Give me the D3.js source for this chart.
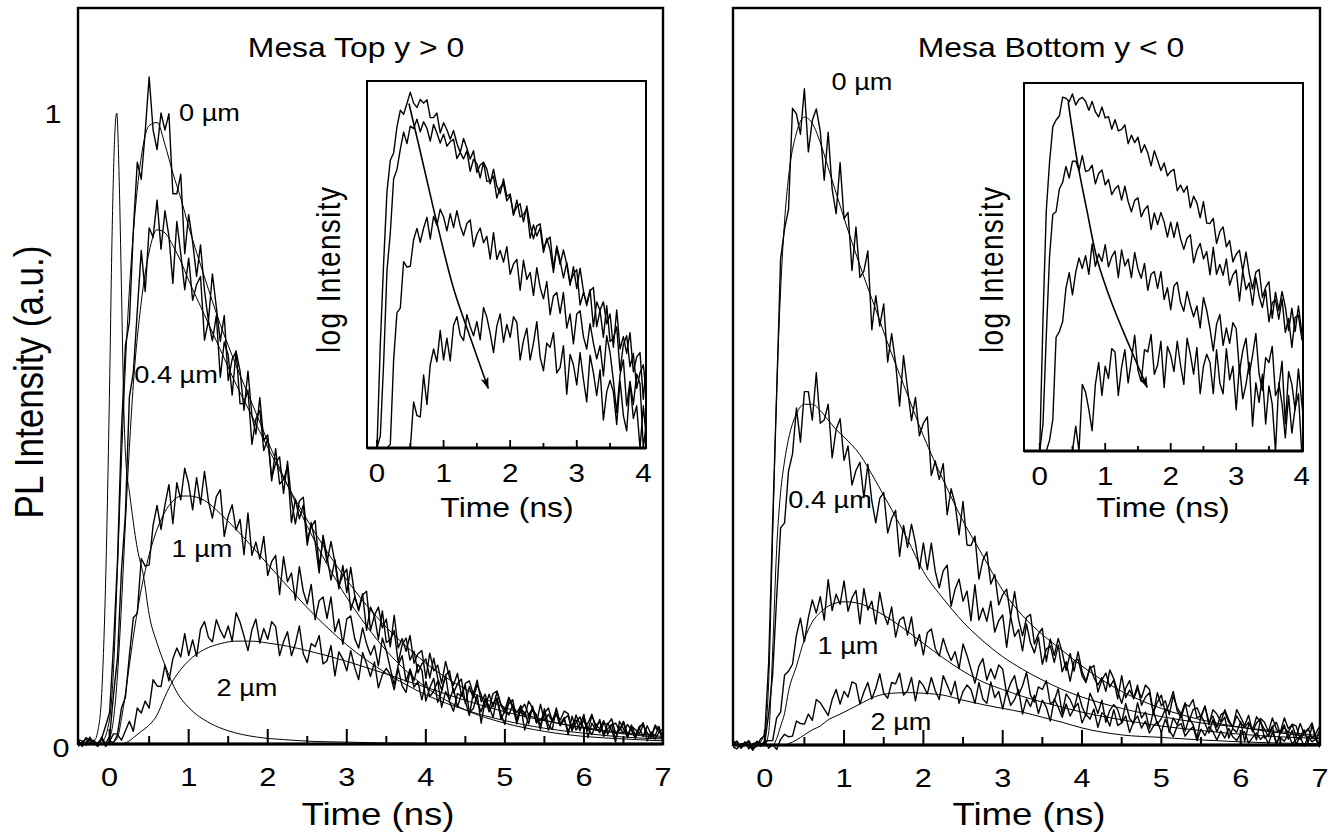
<!DOCTYPE html>
<html><head><meta charset="utf-8">
<script src="https://cdn.jsdelivr.net/npm/d3@7"></script>
<style>
body{margin:0;background:#fff}
svg{display:block}
text{font-family:"Liberation Sans",Arial,Helvetica,sans-serif;fill:#000}
.data{fill:none;stroke:#000;stroke-width:1.4;stroke-linejoin:round}
.fit{fill:none;stroke:#000;stroke-width:1}
</style>
</head><body>
<svg id="c" width="1340" height="838"></svg>
<script>
// ---------- sampling grid of the measured traces (ns) ----------
const TIME_START = -0.4, TIME_STEP = 0.05;

// ---------- Mesa Top (y > 0): measured PL transients ----------
const topData0um = [
.005,-.002,.01,.006,.001,-.004,.009,.029,.05,.158,
.292,.498,.632,.668,.814,.922,.895,.97,1.057,.973,
.942,1.0,.973,.999,.872,.872,.903,.777,.839,.796,
.741,.791,.719,.67,.745,.692,.638,.679,.576,.61,
.622,.591,.529,.591,.52,.491,.549,.481,.49,.417,
.468,.412,.419,.439,.351,.388,.357,.379,.315,.351,
.32,.271,.331,.297,.26,.292,.251,.267,.277,.212,
.233,.214,.238,.18,.217,.203,.166,.211,.161,.165,
.18,.129,.157,.168,.133,.147,.113,.127,.135,.105,
.136,.104,.086,.109,.116,.081,.095,.103,.064,.091,
.073,.094,.078,.058,.079,.059,.082,.061,.049,.064,
.07,.038,.054,.063,.046,.056,.033,.063,.037,.047,
.036,.055,.03,.04,.045,.021,.046,.031,.037,.021,
.045,.03,.024,.037,.015,.03,.033,.022,.036,.016,
.024,.009,.028,.031,.017,.013,.027,.019,.012];
const topData04um = [
.008,-.004,.003,.007,.005,-.002,.009,.001,.012,.079,
.137,.275,.365,.55,.589,.686,.782,.717,.818,.803,
.862,.784,.845,.805,.73,.828,.777,.72,.77,.703,
.728,.741,.64,.671,.639,.679,.581,.637,.616,.553,
.623,.539,.54,.561,.475,.515,.529,.465,.484,.422,
.445,.455,.397,.448,.387,.349,.385,.391,.325,.344,
.354,.28,.326,.288,.321,.288,.246,.283,.24,.28,
.236,.211,.236,.242,.18,.204,.217,.184,.198,.154,
.204,.152,.167,.147,.172,.128,.143,.148,.104,.144,
.116,.125,.096,.131,.105,.093,.112,.077,.096,.1,
.079,.101,.067,.079,.055,.08,.084,.063,.054,.074,
.06,.05,.06,.043,.068,.057,.044,.03,.049,.057,
.036,.047,.038,.052,.048,.022,.034,.043,.023,.033,
.047,.025,.018,.033,.031,.04,.017,.022,.034,.01,
.028,.023,.016,.03,.017,.01,.03,.023,.013];
const topData1um = [
.007,.005,-.002,.011,0,.002,.008,-.004,.005,.016,
.016,.057,.074,.14,.2,.207,.294,.282,.284,.347,
.378,.34,.379,.411,.349,.414,.387,.437,.412,.371,
.422,.38,.432,.385,.358,.392,.403,.329,.361,.379,
.339,.356,.3,.366,.299,.32,.293,.329,.267,.289,
.299,.237,.297,.257,.271,.228,.281,.242,.222,.253,
.197,.227,.233,.199,.233,.178,.198,.158,.198,.203,
.167,.152,.184,.159,.141,.156,.124,.168,.148,.12,
.094,.125,.14,.099,.119,.1,.126,.117,.068,.089,
.104,.066,.083,.109,.067,.052,.08,.076,.093,.05,
.056,.078,.033,.069,.06,.042,.073,.047,.031,.073,
.057,.037,.061,.022,.043,.054,.046,.023,.056,.03,
.023,.057,.032,.042,.015,.044,.022,.031,.047,.01,
.033,.022,.039,.012,.033,.022,.003,.036,.024,.011,
.03,.014,.025,.034,.005,.019,.013,.028,.002];
const topData2um = [
-.004,.003,.008,.002,.006,-.003,.011,-.001,.005,.002,
.015,.006,.021,.036,.02,.057,.049,.068,.057,.102,
.092,.091,.125,.1,.135,.152,.138,.175,.14,.165,
.139,.182,.194,.169,.162,.197,.18,.168,.187,.163,
.208,.193,.171,.148,.181,.198,.16,.183,.166,.194,
.186,.14,.162,.178,.14,.159,.187,.143,.129,.159,
.154,.172,.127,.132,.156,.108,.146,.135,.116,.148,
.121,.102,.145,.127,.107,.13,.089,.11,.12,.11,
.086,.12,.092,.082,.118,.09,.099,.07,.099,.075,
.084,.1,.058,.083,.07,.088,.058,.08,.068,.045,
.081,.066,.051,.072,.051,.064,.072,.039,.053,.046,
.062,.032,.055,.05,.032,.06,.034,.038,.048,.022,
.039,.048,.029,.039,.021,.031,.038,.021,.042,.025,
.015,.03,.035,.015,.024,.031,.008,.027,.017,.031,
.022,.01,.025,.012,.029,.015,.008,.019,.024];

// ---------- Mesa Bottom (y < 0): measured PL transients ----------
const botData0um = [
-.003,-.006,.002,.002,.007,-.005,-.002,.01,.015,.131,
.354,.554,.77,.818,.849,1.009,1.0,.968,1.04,.94,
.99,1.008,.973,.895,.971,.881,.842,.923,.834,.844,
.752,.821,.741,.751,.783,.658,.712,.664,.699,.607,
.652,.605,.537,.617,.565,.514,.551,.49,.51,.52,
.427,.45,.421,.446,.365,.406,.382,.333,.386,.317,
.316,.331,.263,.293,.306,.255,.27,.222,.238,.247,
.204,.243,.199,.173,.202,.207,.16,.176,.185,.132,
.168,.142,.169,.147,.118,.145,.117,.148,.117,.101,
.121,.126,.084,.103,.114,.092,.103,.073,.11,.075,
.087,.074,.095,.063,.076,.083,.049,.083,.062,.07,
.048,.078,.059,.049,.067,.038,.056,.059,.044,.061,
.036,.046,.028,.048,.052,.036,.029,.046,.035,.028,
.036,.023,.045,.036,.025,.013,.028,.036,.018,.028,
.02,.033,.03,.009,.019,.026,.01,.019,.031];
const botData04um = [
-.002,.006,-.005,.004,0,-.008,.006,.002,.003,.05,
.112,.233,.344,.352,.434,.461,.534,.48,.56,.56,
.515,.59,.51,.515,.54,.455,.5,.517,.451,.474,
.412,.435,.448,.392,.445,.387,.352,.391,.4,.336,
.359,.372,.299,.348,.313,.35,.32,.279,.32,.278,
.32,.275,.249,.276,.285,.22,.247,.263,.228,.244,
.197,.254,.198,.217,.196,.228,.179,.197,.206,.155,
.204,.172,.183,.149,.192,.162,.146,.171,.128,.152,
.157,.131,.158,.116,.132,.101,.133,.136,.11,.099,
.125,.107,.095,.107,.085,.119,.105,.085,.066,.09,
.102,.073,.089,.075,.095,.088,.052,.068,.079,.052,
.065,.085,.054,.043,.065,.061,.072,.043,.046,.062,
.032,.056,.049,.037,.056,.04,.028,.056,.044,.031,
.047,.021,.035,.042,.036,.021,.043,.025,.02,.043,
.026,.032,.013,.034,.018,.024,.035,.009,.025];
const botData1um = [
.002,.006,-.005,.001,.005,-.008,.003,-.002,.006,.007,
.007,.043,.052,.111,.117,.128,.174,.201,.164,.202,
.23,.209,.235,.198,.262,.213,.239,.223,.26,.212,
.233,.245,.192,.248,.214,.228,.192,.242,.208,.191,
.219,.171,.198,.203,.174,.203,.157,.175,.143,.178,
.184,.153,.141,.169,.149,.134,.148,.121,.16,.142,
.12,.098,.125,.137,.103,.121,.105,.127,.12,.081,
.098,.11,.079,.094,.115,.079,.068,.092,.088,.102,
.065,.07,.089,.05,.081,.072,.057,.083,.061,.046,
.082,.068,.05,.071,.036,.055,.064,.056,.035,.066,
.042,.034,.067,.043,.052,.026,.054,.033,.042,.057,
.02,.043,.032,.049,.022,.043,.032,.011,.047,.034,
.019,.04,.021,.035,.044,.011,.026,.02,.037,.006,
.032,.027,.008,.04,.011,.016,.03,-.001,.021,.032,
.009,.023,.001,.014,.024,.003,.031,.008,-.004];
const botData2um = [
.007,0,-.003,.005,-.006,.002,.004,-.002,.006,-.005,
.001,-.007,.009,.017,.013,.014,.038,.034,.033,.049,
.039,.072,.067,.057,.047,.072,.088,.065,.085,.076,
.1,.097,.065,.084,.099,.073,.09,.113,.082,.074,
.099,.097,.114,.079,.086,.107,.07,.102,.094,.081,
.107,.086,.072,.11,.095,.079,.101,.066,.085,.095,
.088,.066,.099,.073,.066,.1,.075,.085,.057,.086,
.063,.072,.088,.049,.073,.061,.079,.05,.071,.06,
.038,.073,.06,.044,.065,.046,.058,.066,.035,.049,
.041,.057,.028,.051,.046,.03,.056,.031,.035,.046,
.02,.037,.046,.027,.038,.019,.03,.037,.02,.041,
.023,.013,.03,.034,.014,.023,.029,.007,.025,.015,
.029,.021,.008,.022,.011,.026,.013,.007,.018,.021,
.003,.012,.019,.009,.015,.002,.02,.005,.012,.006,
.017,.002,.009,.013,-.002,.013,.005,.01,.001];

// ---------- model fits (time grid in ns) ----------
const fitTimes = [-0.4,-0.2,-0.1,0,0.05,0.1,0.15,0.2,0.25,0.3,0.4,0.5,0.6,0.7,0.8,0.9,1.0,1.2,1.4,1.6,1.8,2.0,2.25,2.5,2.75,3.0,3.25,3.5,3.75,4.0,4.5,5.0,5.5,6.0,6.5,7.0];
const topFit0um  = [0,0,.003,.04,.12,.28,.45,.6,.72,.81,.93,.98,.985,.95,.905,.865,.82,.74,.665,.6,.54,.48,.41,.345,.285,.232,.187,.148,.116,.09,.054,.033,.02,.012,.008,.005];
const topFit04um = [0,0,0,.01,.04,.11,.22,.35,.47,.57,.7,.78,.815,.81,.79,.765,.735,.68,.625,.57,.52,.47,.41,.355,.305,.26,.22,.185,.155,.128,.087,.058,.038,.025,.016,.01];
const topFit1um  = [0,0,0,0,.003,.01,.04,.08,.125,.17,.245,.3,.34,.368,.385,.393,.393,.386,.365,.34,.313,.285,.25,.216,.185,.157,.133,.112,.094,.078,.054,.037,.025,.017,.011,.008];
const topFit2um  = [0,0,0,0,0,0,0,.002,.005,.01,.02,.03,.046,.075,.1,.118,.132,.15,.159,.163,.163,.16,.155,.148,.14,.131,.121,.111,.1,.09,.069,.051,.037,.026,.018,.012];
const botFit0um  = [0,0,0,.02,.1,.33,.56,.72,.83,.9,.97,.995,.985,.955,.915,.875,.835,.76,.69,.62,.555,.49,.42,.355,.3,.245,.205,.175,.15,.125,.085,.058,.04,.028,.019,.012];
const botFit04um = [0,0,0,0,.02,.15,.31,.4,.45,.485,.525,.54,.54,.53,.515,.5,.488,.46,.418,.373,.326,.275,.232,.195,.165,.14,.12,.103,.088,.076,.058,.045,.035,.028,.021,.015];
const botFit1um  = [0,0,0,0,0,0,.01,.03,.05,.085,.125,.167,.195,.21,.22,.225,.227,.224,.213,.198,.18,.161,.138,.117,.1,.088,.077,.068,.06,.052,.04,.03,.023,.017,.013,.01];
const botFit2um  = [0,0,0,0,0,0,0,0,0,.002,.008,.016,.024,.03,.04,.046,.052,.065,.077,.082,.083,.082,.079,.071,.064,.058,.052,.044,.036,.027,.016,.012,.008,.005,.003,.002];

// ---------- excitation pulse / system response (Mesa Top panel) ----------
const pulseTimes  = [-0.4,-0.3,-0.25,-0.2,-0.15,-0.1,-0.05,0,0.03,0.06,0.09,0.12,0.15,0.18,0.21,0.25,0.28,0.35,0.43,0.5,0.6,0.7,0.85,1.0,1.27,1.5,1.86,2.2,2.6,3.0,3.5,4.0,5.0,7.0];
const pulseValues = [0,0,.001,.004,.02,.08,.26,.57,.8,.95,1.0,.9,.72,.53,.44,.4,.37,.31,.265,.205,.16,.125,.082,.058,.033,.021,.011,.007,.004,.003,.0015,.001,0,0];

// ---------- arrows through the peaks in the log insets ----------
const topArrowTimes  = [0.48,0.62,0.77,0.9,1.15,1.4,1.67];
const topArrowValues = [.97,.72,.52,.394,.24,.166,.113];
const botArrowTimes  = [0.435,0.49,0.57,0.72,0.88,1.1,1.38,1.64];
const botArrowValues = [.965,.77,.566,.357,.226,.152,.101,.07];

// ---------- axes / labels ----------
const mainTickValues   = [0,0.5,1,1.5,2,2.5,3,3.5,4,4.5,5,5.5,6,6.5];
const mainTickLabels   = ["0","1","2","3","4","5","6","7"];
const insetTickValues  = [0,0.5,1,1.5,2,2.5,3,3.5];
const insetTickLabels  = ["0","1","2","3","4"];
const yTickLabels      = ["0","1"];
const panelTitles      = ["Mesa Top y > 0","Mesa Bottom y < 0"];
const distanceLabels   = ["0 µm","0.4 µm","1 µm","2 µm"];
const xAxisTitle = "Time (ns)", yAxisTitle = "PL Intensity (a.u.)", insetYTitle = "log Intensity";

// ---------- drawing ----------
const SX = 1.18;  // horizontal stretch of the original lettering
const svg = d3.select('#c');
svg.append('rect').attr('width',1340).attr('height',838).attr('fill','#fff');
const defs = svg.append('defs');
defs.append('marker').attr('id','ah').attr('viewBox','0 0 12 10').attr('refX',11).attr('refY',5)
  .attr('markerWidth',12).attr('markerHeight',10).attr('markerUnits','userSpaceOnUse').attr('orient','auto')
  .append('path').attr('d','M0,1 L12,5 L0,9 L3,5 Z').attr('fill','#000');

function label(g, x, y, s, size, opt) {
  opt = opt || {};
  const t = g.append('text').attr('text-anchor','middle').attr('font-size',size)
    .attr('transform',`translate(${x},${y}) scale(${SX},1)` + (opt.rot ? ' rotate(-90)' : ''))
    .text(s);
  if (opt.len) t.attr('textLength',opt.len).attr('lengthAdjust','spacing');
  return t;
}

const panels = [
  { id:'top', data:[topData0um,topData04um,topData1um,topData2um], fits:[topFit0um,topFit04um,topFit1um,topFit2um], pulse:true,
    x0:78, x1:663, yTop:8, yBase:744, yOne:113, title:panelTitles[0], titleX:356, xTitleX:378,
    labelPos:[[209.5,121],[176,383],[202,557],[247,696]], yLabels:true,
    inset:{x0:367,x1:646,y0:81,y1:448,tmin:-0.15,tmax:4.04,vmin:0.072,vmax:1.15,ylabX:340,xTitleX:507,aT:topArrowTimes,aV:topArrowValues} },
  { id:'bot', data:[botData0um,botData04um,botData1um,botData2um], fits:[botFit0um,botFit04um,botFit1um,botFit2um], pulse:false,
    x0:733, x1:1320, yTop:8, yBase:745, yOne:114, title:panelTitles[1], titleX:1051, xTitleX:1029,
    labelPos:[[862,90],[830,508],[848,654],[901,730]], yLabels:false,
    inset:{x0:1024,x1:1303,y0:83,y1:451,tmin:-0.24,tmax:4.02,vmin:0.039,vmax:1.15,ylabX:1003,xTitleX:1163,aT:botArrowTimes,aV:botArrowValues} }
];

panels.forEach(p => {
  const g = svg.append('g');
  const x = d3.scaleLinear().domain([-0.4,7]).range([p.x0,p.x1]);
  const y = d3.scaleLinear().domain([0,1]).range([p.yBase,p.yOne]);
  const cid = 'clip-' + p.id;
  defs.append('clipPath').attr('id',cid).append('rect')
    .attr('x',p.x0).attr('y',p.yTop).attr('width',p.x1-p.x0).attr('height',p.yBase-p.yTop+8);
  const plot = g.append('g').attr('clip-path',`url(#${cid})`);
  const dataLine = d3.line().x((d,i)=>x(TIME_START+TIME_STEP*i)).y(d=>y(d));
  const fitLine = d3.line().curve(d3.curveMonotoneX).x((d,i)=>x(fitTimes[i])).y(d=>y(d));
  p.data.forEach(arr => plot.append('path').attr('class','data').attr('d',dataLine(arr)));
  p.fits.forEach(arr => plot.append('path').attr('class','fit').attr('d',fitLine(arr)));
  if (p.pulse) {
    const pl = d3.line().curve(d3.curveMonotoneX).x((d,i)=>x(pulseTimes[i])).y(d=>y(d));
    plot.append('path').attr('class','fit').attr('d',pl(pulseValues));
  }
  // frame and axis
  g.append('rect').attr('x',p.x0).attr('y',p.yTop).attr('width',p.x1-p.x0).attr('height',p.yBase-p.yTop)
    .attr('fill','none').attr('stroke','#000').attr('stroke-width',2.4);
  g.append('line').attr('x1',p.x0).attr('x2',p.x1).attr('y1',p.yBase).attr('y2',p.yBase).attr('stroke','#000').attr('stroke-width',3.2);
  mainTickValues.forEach(t => {
    const major = Number.isInteger(t);
    g.append('line').attr('x1',x(t)).attr('x2',x(t)).attr('y1',p.yBase).attr('y2',p.yBase-(major?15:8))
      .attr('stroke','#000').attr('stroke-width',2);
  });
  mainTickLabels.forEach(s => label(g, x(+s), p.yBase+42, s, 26));
  label(g, p.xTitleX, 825, xAxisTitle, 31);
  label(g, p.titleX, 56.5, p.title, 27);
  distanceLabels.forEach((s,k) => label(g, p.labelPos[k][0], p.labelPos[k][1], s, 23));
  if (p.yLabels) {
    label(g, 61, y(0)+13, yTickLabels[0], 26);
    label(g, 53, y(1)+10, yTickLabels[1], 26);
    label(g, 43, 382, yAxisTitle, 35, {rot:true});
  }
  // inset (log scale)
  const q = p.inset;
  const xi = d3.scaleLinear().domain([q.tmin,q.tmax]).range([q.x0,q.x1]);
  const yi = d3.scaleLog().domain([q.vmin,q.vmax]).range([q.y1,q.y0]);
  g.append('rect').attr('x',q.x0).attr('y',q.y0).attr('width',q.x1-q.x0).attr('height',q.y1-q.y0).attr('fill','#fff');
  const icid = 'iclip-' + p.id;
  defs.append('clipPath').attr('id',icid).append('rect')
    .attr('x',q.x0).attr('y',q.y0).attr('width',q.x1-q.x0).attr('height',q.y1-q.y0);
  const ip = g.append('g').attr('clip-path',`url(#${icid})`);
  const logLine = d3.line().x((d,i)=>xi(TIME_START+TIME_STEP*i)).y(d=>yi(Math.max(d,q.vmin)));
  p.data.forEach(arr => ip.append('path').attr('class','data').attr('d',logLine(arr)));
  const arrowLine = d3.line().curve(d3.curveCatmullRom).x((d,i)=>xi(q.aT[i])).y(d=>yi(d));
  g.append('path').attr('d',arrowLine(q.aV)).attr('fill','none').attr('stroke','#000').attr('stroke-width',1.6)
    .attr('marker-end','url(#ah)');
  g.append('rect').attr('x',q.x0).attr('y',q.y0).attr('width',q.x1-q.x0).attr('height',q.y1-q.y0)
    .attr('fill','none').attr('stroke','#000').attr('stroke-width',2);
  g.append('line').attr('x1',q.x0).attr('x2',q.x1).attr('y1',q.y1).attr('y2',q.y1).attr('stroke','#000').attr('stroke-width',2.8);
  insetTickValues.forEach(t => {
    const major = Number.isInteger(t);
    g.append('line').attr('x1',xi(t)).attr('x2',xi(t)).attr('y1',q.y1).attr('y2',q.y1-(major?8:5))
      .attr('stroke','#000').attr('stroke-width',1.8);
  });
  insetTickLabels.forEach(s => label(g, xi(+s), q.y1+34, s, 25));
  label(g, q.xTitleX, 516.5, xAxisTitle, 27);
  label(g, q.ylabX, 270, insetYTitle, 28, {rot:true, len:166});
});
</script>
</body></html>
